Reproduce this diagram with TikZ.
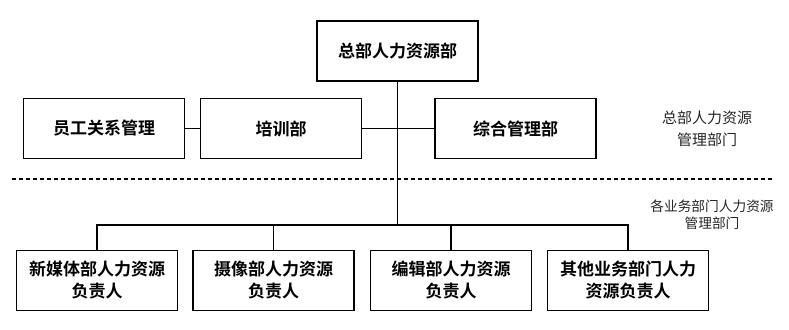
\documentclass[tikz,border=0pt]{standalone}
\usepackage{fontspec}
\setmainfont{Noto Sans CJK SC}[BoldFont={Noto Sans CJK SC Bold}]
\begin{document}
\begin{tikzpicture}[x=1pt,y=-1pt,
  box/.style={draw=black,line width=1.3pt,minimum width=161pt,minimum height=60pt,inner sep=0pt,align=center,
    font=\fontsize{17pt}{22pt}\selectfont\bfseries},
  conn/.style={draw=black,line width=1.1pt},
  note/.style={align=center,text=black!85}]
\useasboundingbox (0,0) rectangle (789,329);
\node[box] (top) at (397.5,51) {总部人力资源部};
\node[box] (yg) at (104,128.5) {员工关系管理};
\node[box] (px) at (281,128.5) {培训部};
\node[box] (zh) at (515.5,128.5) {综合管理部};
\node[box] (b1) at (97,280.5) {新媒体部人力资源\\负责人};
\node[box] (b2) at (273.5,280.5) {摄像部人力资源\\负责人};
\node[box] (b3) at (451,280.5) {编辑部人力资源\\负责人};
\node[box] (b4) at (628,280.5) {其他业务部门人力\\资源负责人};
\node[note,font=\fontsize{15pt}{22pt}\selectfont] (lab1) at (707,129) {总部人力资源\\管理部门};
\node[note,font=\fontsize{13.7pt}{17pt}\selectfont] (lab2) at (712,214.5) {各业务部门人力资源\\管理部门};
\coordinate (bus) at (397.5,225);
\coordinate (dL) at (12,179);
\coordinate (dR) at (772,179);
\draw[conn] (top.south) -- (bus);
\draw[conn] (yg.east) -- (px.west);
\draw[conn] (px.east) -- (zh.west);
\draw[conn] (b1.north) -- (b1.north |- bus) -- (b4.north |- bus) -- (b4.north);
\draw[conn] (b2.north) -- (b2.north |- bus);
\draw[conn] (b3.north) -- (b3.north |- bus);
\draw[line width=1.1pt,dash pattern=on 4pt off 3pt] (dL) -- (dR);
\end{tikzpicture}
\end{document}
